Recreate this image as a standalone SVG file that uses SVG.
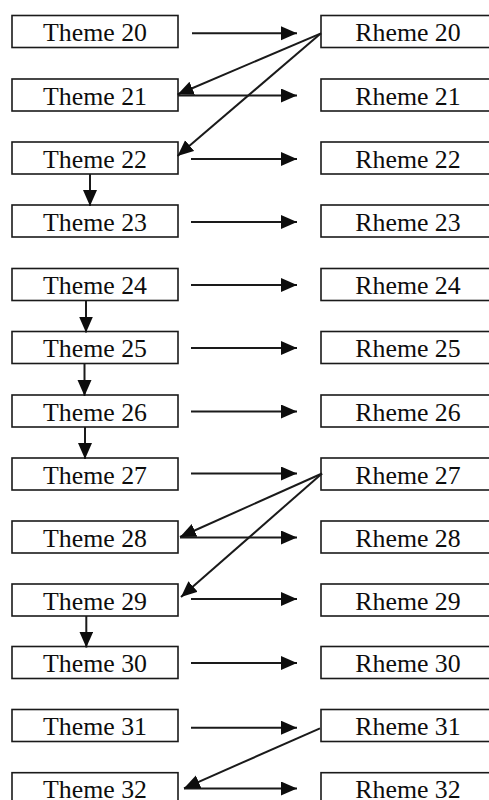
<svg xmlns="http://www.w3.org/2000/svg" width="489" height="800" viewBox="0 0 489 800">
  <style>
    .box { fill: #fff; stroke: #1a1a1a; stroke-width: 1.6; }
    .lbl { font-family: "Liberation Serif", "Times New Roman", serif; font-size: 25.8px; fill: #0d0d0d; text-anchor: middle; }
    .edge { stroke: #1a1a1a; stroke-width: 2; fill: none; marker-end: url(#head); }
  </style>
  <defs>
    <marker id="head" markerUnits="userSpaceOnUse" markerWidth="17" markerHeight="15" refX="16" refY="7" orient="auto">
      <path d="M0,0 L16,7 L0,14 z" fill="#0d0d0d"/>
    </marker>
  </defs>
  <rect width="489" height="800" fill="#fff"/>

  <!-- theme column -->
  <g id="theme20"><rect class="box" x="12" y="15.5" width="166" height="32"/><text class="lbl" x="95" y="41">Theme 20</text></g>
  <g id="theme21"><rect class="box" x="12" y="79" width="166" height="32"/><text class="lbl" x="95" y="104.5">Theme 21</text></g>
  <g id="theme22"><rect class="box" x="12" y="142" width="166" height="32"/><text class="lbl" x="95" y="167.5">Theme 22</text></g>
  <g id="theme23"><rect class="box" x="12" y="205" width="166" height="32"/><text class="lbl" x="95" y="230.5">Theme 23</text></g>
  <g id="theme24"><rect class="box" x="12" y="268.5" width="166" height="32"/><text class="lbl" x="95" y="294">Theme 24</text></g>
  <g id="theme25"><rect class="box" x="12" y="331.5" width="166" height="32"/><text class="lbl" x="95" y="357">Theme 25</text></g>
  <g id="theme26"><rect class="box" x="12" y="395" width="166" height="32"/><text class="lbl" x="95" y="420.5">Theme 26</text></g>
  <g id="theme27"><rect class="box" x="12" y="458" width="166" height="32"/><text class="lbl" x="95" y="483.5">Theme 27</text></g>
  <g id="theme28"><rect class="box" x="12" y="521" width="166" height="32"/><text class="lbl" x="95" y="546.5">Theme 28</text></g>
  <g id="theme29"><rect class="box" x="12" y="584" width="166" height="32"/><text class="lbl" x="95" y="609.5">Theme 29</text></g>
  <g id="theme30"><rect class="box" x="12" y="646.5" width="166" height="32"/><text class="lbl" x="95" y="672">Theme 30</text></g>
  <g id="theme31"><rect class="box" x="12" y="709.5" width="166" height="32"/><text class="lbl" x="95" y="735">Theme 31</text></g>
  <g id="theme32"><rect class="box" x="12" y="772.7" width="166" height="32"/><text class="lbl" x="95" y="797.6">Theme 32</text></g>

  <!-- rheme column -->
  <g id="rheme20"><rect class="box" x="321" y="15.5" width="176" height="32"/><text class="lbl" x="408" y="41">Rheme 20</text></g>
  <g id="rheme21"><rect class="box" x="321" y="79" width="176" height="32"/><text class="lbl" x="408" y="104.5">Rheme 21</text></g>
  <g id="rheme22"><rect class="box" x="321" y="142" width="176" height="32"/><text class="lbl" x="408" y="167.5">Rheme 22</text></g>
  <g id="rheme23"><rect class="box" x="321" y="205" width="176" height="32"/><text class="lbl" x="408" y="230.5">Rheme 23</text></g>
  <g id="rheme24"><rect class="box" x="321" y="268.5" width="176" height="32"/><text class="lbl" x="408" y="294">Rheme 24</text></g>
  <g id="rheme25"><rect class="box" x="321" y="331.5" width="176" height="32"/><text class="lbl" x="408" y="357">Rheme 25</text></g>
  <g id="rheme26"><rect class="box" x="321" y="395" width="176" height="32"/><text class="lbl" x="408" y="420.5">Rheme 26</text></g>
  <g id="rheme27"><rect class="box" x="321" y="458" width="176" height="32"/><text class="lbl" x="408" y="483.5">Rheme 27</text></g>
  <g id="rheme28"><rect class="box" x="321" y="521" width="176" height="32"/><text class="lbl" x="408" y="546.5">Rheme 28</text></g>
  <g id="rheme29"><rect class="box" x="321" y="584" width="176" height="32"/><text class="lbl" x="408" y="609.5">Rheme 29</text></g>
  <g id="rheme30"><rect class="box" x="321" y="646.5" width="176" height="32"/><text class="lbl" x="408" y="672">Rheme 30</text></g>
  <g id="rheme31"><rect class="box" x="321" y="709.5" width="176" height="32"/><text class="lbl" x="408" y="735">Rheme 31</text></g>
  <g id="rheme32"><rect class="box" x="321" y="772.7" width="176" height="32"/><text class="lbl" x="408" y="797.6">Rheme 32</text></g>

  <!-- connectors -->
  <g id="connectors">
    <!-- theme to rheme -->
    <line class="edge" x1="192" y1="33.3" x2="297" y2="33.3"/>
    <line class="edge" x1="178" y1="95.5" x2="297" y2="95.5"/>
    <line class="edge" x1="191" y1="159" x2="297" y2="159"/>
    <line class="edge" x1="191" y1="222" x2="297" y2="222"/>
    <line class="edge" x1="191" y1="285" x2="297" y2="285"/>
    <line class="edge" x1="191" y1="348" x2="297" y2="348"/>
    <line class="edge" x1="191" y1="411.5" x2="297" y2="411.5"/>
    <line class="edge" x1="191" y1="473.5" x2="297" y2="473.5"/>
    <line class="edge" x1="180" y1="537.5" x2="297" y2="537.5"/>
    <line class="edge" x1="191" y1="599" x2="297" y2="599"/>
    <line class="edge" x1="191" y1="663" x2="297" y2="663"/>
    <line class="edge" x1="191" y1="727.7" x2="297" y2="727.7"/>
    <line class="edge" x1="184" y1="788.5" x2="297" y2="788.5"/>
    <!-- rheme back to later themes -->
    <line class="edge" x1="321" y1="33.3" x2="177.5" y2="94.5"/>
    <line class="edge" x1="321" y1="33.3" x2="177.5" y2="156"/>
    <line class="edge" x1="322" y1="473.5" x2="180" y2="537"/>
    <line class="edge" x1="322" y1="473.5" x2="181" y2="597"/>
    <line class="edge" x1="320" y1="728.3" x2="184" y2="788.3"/>
    <!-- theme to next theme -->
    <line class="edge" x1="90" y1="174" x2="90" y2="206"/>
    <line class="edge" x1="86" y1="300.5" x2="86" y2="332.5"/>
    <line class="edge" x1="84.5" y1="363.5" x2="84.5" y2="396"/>
    <line class="edge" x1="85" y1="427" x2="85" y2="459"/>
    <line class="edge" x1="86.3" y1="616" x2="86.3" y2="647.5"/>
  </g>
</svg>
